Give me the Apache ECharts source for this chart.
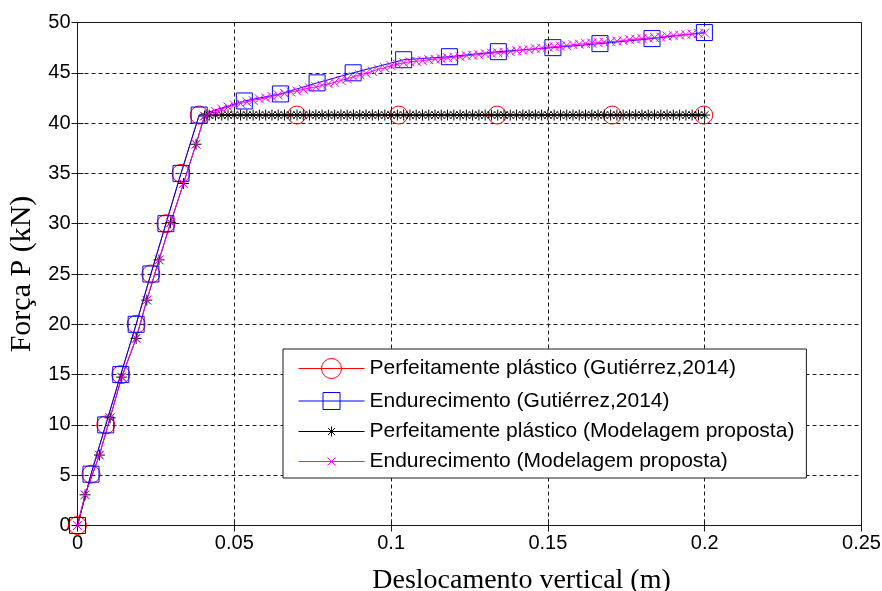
<!DOCTYPE html>
<html>
<head>
<meta charset="utf-8">
<script src="https://cdn.jsdelivr.net/npm/echarts@6/dist/echarts.min.js"></script>
<style>
  html, body { margin: 0; padding: 0; background: #fff; }
  #chart { width: 882px; height: 591px; }
</style>
</head>
<body>
<div id="chart"></div>
<script>
// legend names
const seriesNames = [
  'Perfeitamente plástico (Gutiérrez,2014)',
  'Endurecimento (Gutiérrez,2014)',
  'Perfeitamente plástico (Modelagem proposta)',
  'Endurecimento (Modelagem proposta)'
]

// Gutiérrez (2014) - perfeitamente plástico
const gutPlasticX = [0, 0.0043, 0.0090, 0.0138, 0.0187, 0.0234, 0.0282, 0.0330, 0.0388, 0.0699, 0.1024, 0.1338, 0.1705, 0.1997]
const gutPlasticY = [0, 5.1, 10, 15, 20, 25, 30, 35, 40.8, 40.8, 40.8, 40.8, 40.8, 40.8]

// Gutiérrez (2014) - endurecimento
const gutHardX = [0, 0.0043, 0.0090, 0.0138, 0.0187, 0.0234, 0.0282, 0.0330, 0.0388, 0.0532, 0.0647, 0.0764, 0.0879, 0.1040, 0.1186, 0.1342, 0.1516, 0.1666, 0.1832, 0.1999]
const gutHardY = [0, 5.1, 10, 15, 20, 25, 30, 35, 40.8, 42.2, 42.9, 44.0, 45.0, 46.3, 46.6, 47.1, 47.5, 47.9, 48.4, 49.0]

// Modelagem proposta - trecho elastico (comum aos dois modelos)
const propElasticX = [0, 0.0024, 0.0070, 0.0104, 0.0141, 0.0187, 0.0221, 0.0260, 0.0297, 0.0338, 0.0378, 0.0405]
const propElasticY = [0, 3.05, 7.0, 10.7, 14.75, 18.6, 22.4, 26.4, 30.1, 34.0, 37.9, 40.7]

// Modelagem proposta - passos apos o escoamento
const propStepX = [
  0.042, 0.044, 0.046, 0.048, 0.050, 0.052, 0.054, 0.056, 0.058, 0.060,
  0.062, 0.064, 0.066, 0.068, 0.070, 0.072, 0.074, 0.076, 0.078, 0.080,
  0.082, 0.084, 0.086, 0.088, 0.090, 0.092, 0.094, 0.096, 0.098, 0.100,
  0.102, 0.104, 0.106, 0.108, 0.110, 0.112, 0.114, 0.116, 0.118, 0.120,
  0.122, 0.124, 0.126, 0.128, 0.130, 0.132, 0.134, 0.136, 0.138, 0.140,
  0.142, 0.144, 0.146, 0.148, 0.150, 0.152, 0.154, 0.156, 0.158, 0.160,
  0.162, 0.164, 0.166, 0.168, 0.170, 0.172, 0.174, 0.176, 0.178, 0.180,
  0.182, 0.184, 0.186, 0.188, 0.190, 0.192, 0.194, 0.196, 0.198, 0.200
]
// carga de escoamento (patamar do modelo perfeitamente plastico)
const propPlasticLoad = 40.8
const propHardY = [
  40.9, 41.15, 41.4, 41.6, 41.8, 41.95, 42.1, 42.25, 42.4, 42.5,
  42.65, 42.8, 42.95, 43.1, 43.2, 43.35, 43.5, 43.6, 43.75, 43.9,
  44.05, 44.25, 44.4, 44.6, 44.8, 44.95, 45.15, 45.35, 45.5, 45.7,
  45.85, 46.0, 46.1, 46.15, 46.2, 46.3, 46.35, 46.4, 46.5, 46.55,
  46.6, 46.7, 46.75, 46.8, 46.9, 46.95, 47.0, 47.05, 47.1, 47.2,
  47.25, 47.3, 47.4, 47.45, 47.55, 47.6, 47.65, 47.7, 47.8, 47.85,
  47.9, 47.95, 48.0, 48.05, 48.1, 48.15, 48.2, 48.3, 48.35, 48.4,
  48.45, 48.5, 48.55, 48.65, 48.7, 48.75, 48.8, 48.85, 48.9, 48.95
]

// eixos
const xMin = 0, xMax = 0.25, xStep = 0.05
const yMin = 0, yMax = 50, yStep = 5

const pairs = (xs, ys) => xs.map((x, i) => [x, ys[i]])
const gutPlastic = pairs(gutPlasticX, gutPlasticY)
const gutHard = pairs(gutHardX, gutHardY)
const propPlastic = pairs(propElasticX, propElasticY).concat(propStepX.map(x => [x, propPlasticLoad]))
const propHard = pairs(propElasticX, propElasticY).concat(pairs(propStepX, propHardY))

// marcadores estilo matlab
const starSymbol = 'path://M5 0 L5 10 M0 5 L10 5 M1.6 1.6 L8.4 8.4 M1.6 8.4 L8.4 1.6'
const crossSymbol = 'path://M0 0 L10 10 M0 10 L10 0'
// icones da legenda (linha + marcador)
const legendCircle = 'path://M0 10 L66 10 M23 10 A10 10 0 1 1 43 10 A10 10 0 1 1 23 10'
const legendSquare = 'path://M0 10 L66 10 M24.5 1.5 L41.5 1.5 L41.5 18.5 L24.5 18.5 Z'
const legendStar = 'path://M0 10 L66 10 M33 5 L33 15 M28 10 L38 10 M29.5 6.5 L36.5 13.5 M29.5 13.5 L36.5 6.5'
const legendCross = 'path://M0 10 L66 10 M29 6 L37 14 M29 14 L37 6'

const axisColor = '#1a1a1a'
const gridLine = { show: true, lineStyle: { color: '#1a1a1a', type: [4, 3], width: 1 } }

function lineSeries (name, data, color, symbol, size) {
  return {
    name,
    type: 'line',
    data,
    symbol,
    symbolSize: size,
    showSymbol: true,
    showAllSymbol: true,
    lineStyle: { color, width: 1 },
    itemStyle: { color: 'none', borderColor: color, borderWidth: 1 },
    emphasis: { disabled: true }
  }
}

const option = {
  animation: false,
  backgroundColor: '#fff',
  grid: {
    left: 77.5,
    right: 20.5,
    top: 22.5,
    bottom: 65.5,
    containLabel: false,
    outerBoundsMode: 'none',
    show: true,
    borderColor: axisColor,
    borderWidth: 1
  },
  legend: {
    orient: 'vertical',
    left: 283,
    top: 349,
    padding: [7, 12, 6, 13],
    itemWidth: 66,
    itemHeight: 20,
    itemGap: 9,
    backgroundColor: '#fff',
    borderColor: axisColor,
    borderWidth: 1,
    borderRadius: 0,
    textStyle: { fontFamily: 'Liberation Sans', fontSize: 21, color: '#000', lineHeight: 20 },
    data: [
      { name: seriesNames[0], icon: legendCircle, itemStyle: { color: 'none', borderColor: '#ff0000', borderWidth: 1 } },
      { name: seriesNames[1], icon: legendSquare, itemStyle: { color: 'none', borderColor: '#0000ff', borderWidth: 1 } },
      { name: seriesNames[2], icon: legendStar, itemStyle: { color: 'none', borderColor: '#000000', borderWidth: 1 } },
      { name: seriesNames[3], icon: legendCross, itemStyle: { color: 'none', borderColor: '#ff00ff', borderWidth: 1 } }
    ]
  },
  xAxis: [
    {
      type: 'value',
      min: xMin,
      max: xMax,
      interval: xStep,
      name: 'Deslocamento vertical (m)',
      nameLocation: 'middle',
      nameGap: 41,
      nameTextStyle: { fontFamily: 'Liberation Serif', fontSize: 28, color: '#000', padding: [0, 0, 0, 104] },
      axisLine: { show: true, onZero: false, lineStyle: { color: axisColor } },
      axisTick: { show: true, inside: true, length: 6, lineStyle: { color: axisColor } },
      axisLabel: {
        margin: 8,
        fontFamily: 'Liberation Sans',
        fontSize: 20,
        color: '#000',
        formatter: v => String(+v.toFixed(2))
      },
      splitLine: gridLine
    },
    {
      type: 'value',
      position: 'top',
      min: xMin,
      max: xMax,
      interval: xStep,
      axisLine: { show: true, lineStyle: { color: axisColor } },
      axisTick: { show: true, inside: true, length: 6, lineStyle: { color: axisColor } },
      axisLabel: { show: false },
      splitLine: { show: false }
    }
  ],
  yAxis: [
    {
      type: 'value',
      min: yMin,
      max: yMax,
      interval: yStep,
      name: 'Força P (kN)',
      nameLocation: 'middle',
      nameGap: 38,
      nameRotate: 90,
      nameTextStyle: { fontFamily: 'Liberation Serif', fontSize: 30, color: '#000' },
      axisLine: { show: true, onZero: false, lineStyle: { color: axisColor } },
      axisTick: { show: true, inside: true, length: 6, lineStyle: { color: axisColor } },
      axisLabel: { margin: 7, fontFamily: 'Liberation Sans', fontSize: 20, color: '#000' },
      splitLine: gridLine
    },
    {
      type: 'value',
      position: 'right',
      min: yMin,
      max: yMax,
      interval: yStep,
      axisLine: { show: true, lineStyle: { color: axisColor } },
      axisTick: { show: true, inside: true, length: 6, lineStyle: { color: axisColor } },
      axisLabel: { show: false },
      splitLine: { show: false }
    }
  ],
  series: [
    lineSeries(seriesNames[0], gutPlastic, '#ff0000', 'circle', 18),
    lineSeries(seriesNames[1], gutHard, '#0000ff', 'rect', 16),
    lineSeries(seriesNames[2], propPlastic, '#000000', starSymbol, 11),
    lineSeries(seriesNames[3], propHard, '#ff00ff', crossSymbol, 9)
  ]
}

const myChart = echarts.init(document.getElementById('chart'))
myChart.setOption(option)
</script>
</body>
</html>
